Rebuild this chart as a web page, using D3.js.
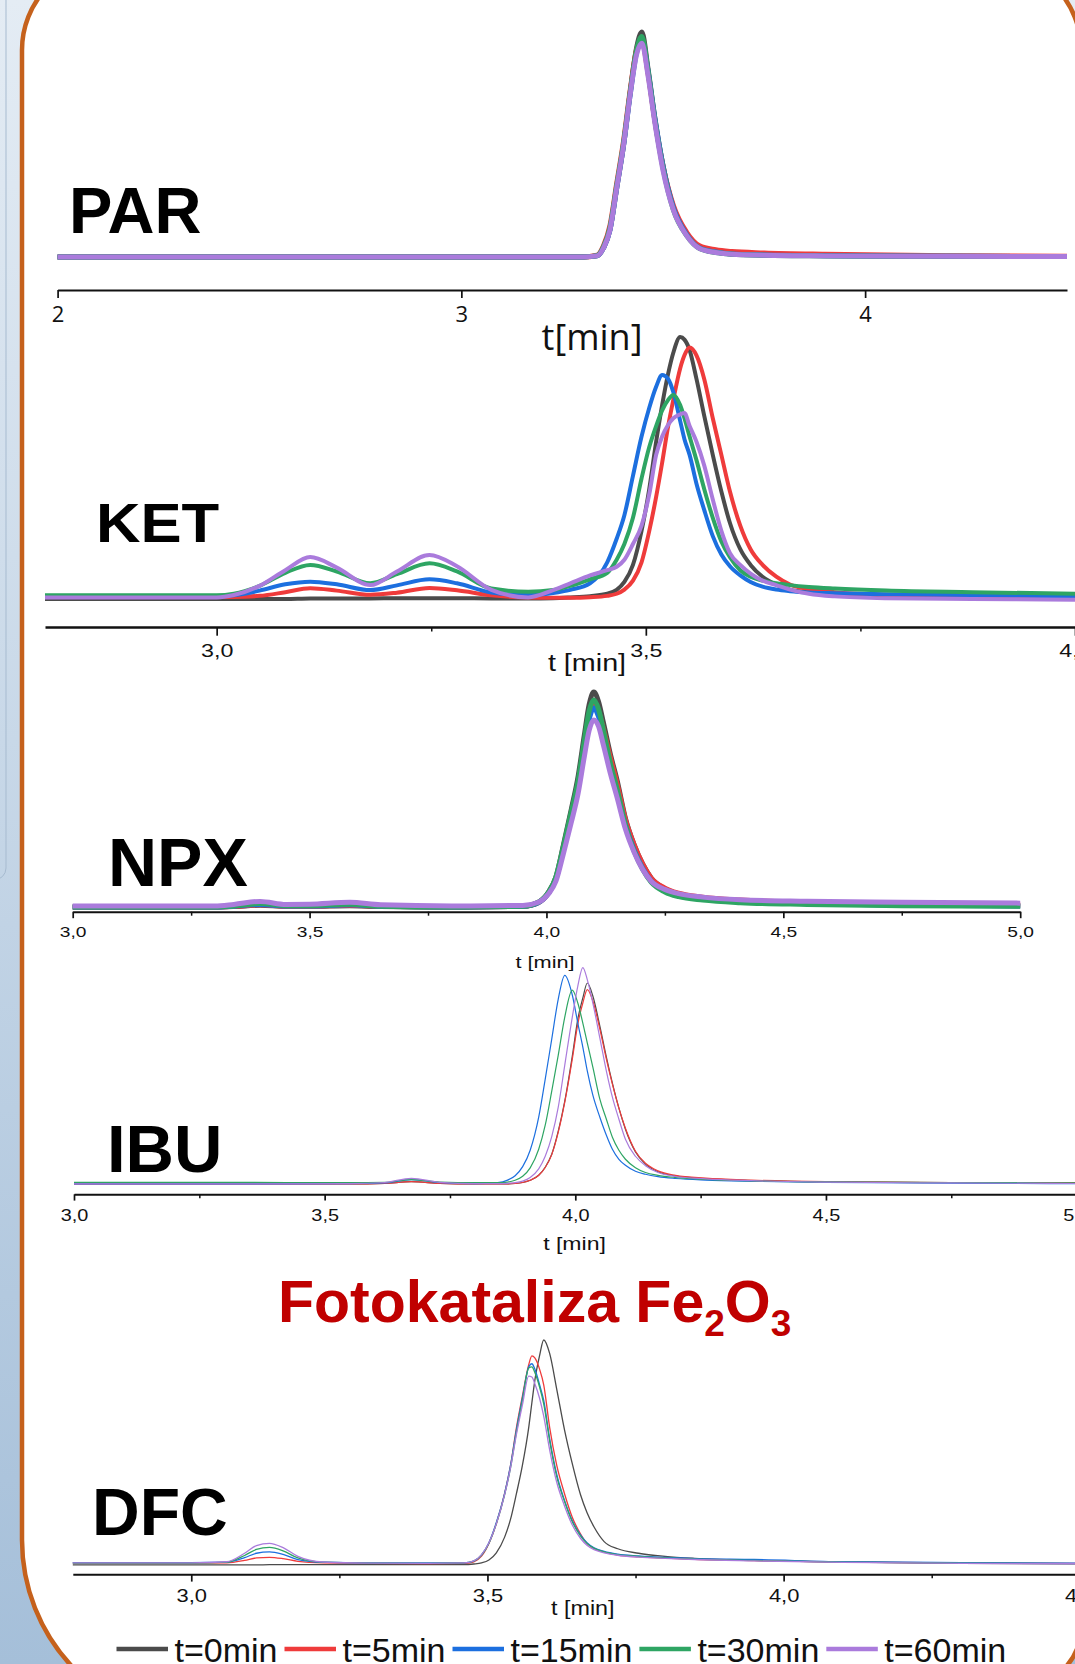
<!DOCTYPE html>
<html>
<head>
<meta charset="utf-8">
<script src="https://cdn.jsdelivr.net/npm/d3@7"></script>
<style>
	html, body { margin: 0; padding: 0; background: #fff; }
	svg { display: block; }
</style>
</head>
<body>
<svg id="chart" width="1075" height="1664"></svg>
<script>
var seriesNames = ["t=0min", "t=5min", "t=15min", "t=30min", "t=60min"];
var seriesColors = ["#4b4b4b", "#ef3b3b", "#1c6fdf", "#2ea563", "#aa7bdc"];

// PAR
var parTime = [2.0, 3.0, 3.30, 3.336, 3.352, 3.368, 3.385, 3.402, 3.418, 3.434, 3.447, 3.462, 3.479, 3.50, 3.525, 3.558, 3.59, 3.63, 3.67, 3.75, 3.9, 4.2, 4.5];
var parT0  = [0, 0, 0, 0.5, 4, 12, 31, 50, 73, 93, 100, 84, 62, 40, 22, 10, 4, 2.2, 1.3, 0.9, 0.6, 0.3, 0.2];
var parT5  = [0, 0, 0, 0.8, 5, 14, 33, 52, 74, 92, 96, 82, 61, 40, 23, 11, 5, 3.2, 2.4, 1.8, 1.2, 0.6, 0.3];
var parT15 = [0, 0, 0, 0.5, 4, 12, 31, 50, 72, 91, 97, 83, 62, 40, 22, 10, 4, 2.2, 1.3, 0.9, 0.6, 0.3, 0.2];
var parT30 = [0, 0, 0, 0.6, 4.5, 13, 32, 51, 73, 92, 98, 83, 61, 39, 21, 9.5, 3.8, 2.0, 1.2, 0.8, 0.5, 0.3, 0.2];
var parT60 = [0, 0, 0, 0.5, 4, 12, 31, 50, 72, 90, 95, 81, 60, 38, 21, 9.5, 3.8, 2.0, 1.2, 0.8, 0.5, 0.3, 0.2];

// KET
var ketTime = [2.80, 3.00, 3.02, 3.05, 3.08, 3.109, 3.14, 3.179, 3.21, 3.248, 3.28, 3.32, 3.363, 3.392, 3.412, 3.435, 3.455, 3.466, 3.475, 3.485, 3.495, 3.504, 3.512, 3.519, 3.526, 3.532, 3.540, 3.545, 3.551, 3.559, 3.568, 3.578, 3.588, 3.598, 3.61, 3.622, 3.636, 3.652, 3.668, 3.69, 3.72, 3.78, 3.88, 4.00];
var ketT0  = [0, 0, 0, 0, 0, 0.2, 0.2, 0.2, 0.3, 0.3, 0.3, 0.2, 0.2, 0.3, 0.6, 1.1, 2.0, 3.5, 6.5, 13, 26, 42, 60, 74, 86, 94, 100, 99, 95, 84, 70, 55, 41, 29, 19, 13, 8.5, 5.5, 3.6, 2.5, 1.8, 1.2, 0.8, 0.5];
var ketT5  = [0.8, 0.8, 0.8, 1.2, 2.6, 4.1, 3.2, 1.6, 2.4, 4.2, 3.3, 1.4, 0.6, 0.5, 0.5, 0.7, 1.2, 2.0, 3.6, 7, 14, 26, 39, 52, 66, 76, 88, 93, 96, 93, 84, 69, 55, 41, 28, 19, 13, 8.5, 5.5, 3.8, 2.6, 1.6, 1.0, 0.6];
var ketT15 = [1.0, 1.0, 1.4, 3.2, 5.6, 6.6, 5.6, 3.4, 5.2, 7.5, 6.0, 2.5, 1.5, 2.3, 3.5, 6, 14, 23, 32, 47, 62, 73, 81, 85.5, 84, 79, 68, 61, 55, 44, 34, 24, 17, 12.5, 9, 6.5, 4.7, 3.6, 3.0, 2.5, 2.2, 1.8, 1.5, 1.0];
var ketT30 = [1.4, 1.4, 2.0, 5.0, 10, 13, 10.5, 6, 9.5, 13.6, 10.5, 4, 2.8, 3.4, 5, 7.5, 10, 15, 21, 31, 46, 58, 66, 72, 76, 77.9, 74, 69, 62, 53, 42, 31, 22, 16, 11, 8.5, 7, 6, 5.3, 4.6, 4.0, 3.2, 2.6, 2.0];
var ketT60 = [0.6, 0.6, 1.5, 5, 11, 16, 12, 5.3, 10.5, 16.8, 12.5, 3.5, 0.6, 3.4, 6, 9, 11, 12.3, 15, 21, 28, 40, 55, 62, 66.5, 69, 70.5, 71, 66, 60, 51, 38, 26, 17.5, 13, 9.7, 7, 5.3, 3.6, 2.0, 1.0, 0.3, 0, -0.3];

// NPX
var npxTime = [3.0, 3.30, 3.34, 3.396, 3.45, 3.50, 3.585, 3.65, 3.80, 3.95, 3.983, 4.004, 4.02, 4.036, 4.052, 4.067, 4.08, 4.09, 4.10, 4.11, 4.12, 4.135, 4.149, 4.167, 4.185, 4.203, 4.221, 4.25, 4.279, 4.33, 4.409, 4.55, 4.75, 5.0];
var npxT0  = [0, 0, 0.2, 0.8, 0.3, 0.3, 0.6, 0.2, 0, 0.3, 2.2, 6.8, 14, 29, 45, 61, 80, 94, 100, 95.5, 86, 71, 59, 41, 29, 20, 13.5, 8.5, 6, 4.2, 2.8, 1.8, 1.0, 0.6];
var npxT5  = [0, 0, 0.3, 1.0, 0.4, 0.4, 0.8, 0.3, 0, 0.3, 2.0, 6.3, 13, 27, 42, 57, 75, 88, 94, 91, 83, 69.5, 57.5, 40.5, 29, 20, 13.5, 8.8, 6.4, 4.6, 3.2, 2.2, 1.4, 0.9];
var npxT15 = [0, 0, 0.4, 1.2, 0.5, 0.5, 1.0, 0.3, 0, 0.3, 2.0, 6.3, 13, 27, 41.5, 56.5, 74, 87, 92.6, 88.5, 80, 65.5, 54, 38, 26.5, 18, 12, 7.6, 5.4, 3.8, 2.5, 1.6, 0.9, 0.5];
var npxT30 = [0, 0, 0.5, 1.6, 0.6, 0.6, 1.3, 0.4, 0, 0.3, 2.2, 6.8, 14, 28.5, 44, 59, 77.5, 91, 96.3, 92, 82.5, 67, 55, 38, 26, 17.5, 11.5, 7, 4.8, 3.2, 2.0, 1.2, 0.6, 0.3];
var npxT60 = [0.5, 0.5, 1.2, 2.6, 1.2, 1.3, 2.2, 1.0, 0.5, 0.7, 2.2, 6, 12, 25, 39, 53, 70, 82, 87, 84, 75.5, 62, 51, 36, 25.5, 17.5, 12, 8.2, 6.2, 4.6, 3.4, 2.7, 2.2, 1.8];

// IBU
var ibuTime = [3.0, 3.30, 3.55, 3.62, 3.673, 3.73, 3.80, 3.845, 3.865, 3.88, 3.895, 3.91, 3.927, 3.94, 3.953, 3.966, 3.979, 3.994, 4.005, 4.015, 4.024, 4.035, 4.049, 4.062, 4.074, 4.087, 4.10, 4.12, 4.14, 4.165, 4.20, 4.26, 4.35, 4.50, 4.75, 5.0];
var ibuT0  = [-0.3, -0.3, -0.3, 0, 0.8, 0, -0.3, -0.3, -0.3, -0.1, 0.4, 1.5, 4.0, 8.0, 14.5, 26, 41, 63.5, 82, 92.5, 100, 93.5, 78.5, 63, 50, 37.5, 27, 15.7, 9.6, 5.8, 3.7, 2.3, 1.4, 0.7, 0.3, 0.1];
var ibuT5  = [-0.3, -0.3, -0.3, 0, 0.8, 0, -0.3, -0.3, -0.3, -0.1, 0.4, 1.5, 4.0, 7.9, 14.3, 25.5, 40.5, 62, 79.5, 90, 96.7, 91, 77, 62, 49.5, 37.5, 27.5, 16, 10, 6.2, 4.0, 2.6, 1.6, 0.8, 0.4, 0.3];
var ibuT15 = [-0.3, -0.3, -0.2, 0.2, 1.8, 0.3, -0.2, 0.3, 1.6, 3.8, 8.3, 16.5, 33, 52, 72, 92, 103.8, 94, 80, 68, 56, 44, 33, 24, 17, 12, 9, 6, 4.5, 3.3, 2.4, 1.6, 1.0, 0.5, 0.1, -0.2];
var ibuT30 = [0.5, 0.5, 0.3, 0.5, 1.8, 0.6, 0.3, 0.3, 0.6, 1.5, 3.5, 7.7, 17, 29, 46, 64, 83, 96.4, 90, 80, 70, 58, 42, 32, 23, 16.5, 12, 7.8, 5.4, 4.0, 2.9, 1.9, 1.2, 0.7, 0.4, 0.2];
var ibuT60 = [-0.3, -0.3, -0.2, 0.4, 2.5, 0.5, -0.2, -0.2, 0, 0.3, 1.1, 2.9, 7.2, 13.5, 23.3, 38, 59, 83, 98.5, 107.7, 101.6, 90, 72.5, 56, 43, 32, 22, 13.5, 8.8, 5.4, 3.4, 2.2, 1.3, 0.6, 0.2, -0.1];

// DFC
var dfcTime = [2.8, 3.0, 3.06, 3.09, 3.11, 3.132, 3.155, 3.18, 3.222, 3.30, 3.40, 3.46, 3.477, 3.49, 3.5025, 3.515, 3.529, 3.539, 3.549, 3.559, 3.5697, 3.575, 3.58, 3.588, 3.595, 3.605, 3.617, 3.63, 3.643, 3.657, 3.668, 3.68, 3.697, 3.72, 3.755, 3.80, 3.85, 3.95, 4.1, 4.3, 4.5];
var dfcT0  = [-0.4, -0.4, -0.4, -0.4, -0.4, -0.3, -0.3, -0.3, -0.3, -0.3, -0.3, -0.3, 0, 0.5, 1.8, 5, 12, 20, 31.5, 44, 61, 72, 82, 93, 100, 94, 78, 60, 45, 31, 23, 16.5, 10, 6.8, 4.8, 3.4, 2.5, 1.6, 0.8, 0.3, 0];
var dfcT5  = [0.4, 0.4, 0.5, 1.6, 2.7, 3.0, 2.4, 1.2, 0.5, 0.3, 0.2, 0.3, 1, 3.5, 9.2, 18, 31.5, 44, 61, 75, 89, 92.9, 92, 87, 80, 61, 44, 31.5, 21, 13.5, 9.2, 6.8, 5.3, 4.0, 3.2, 2.6, 2.1, 1.5, 0.9, 0.5, 0.3];
var dfcT15 = [0.6, 0.6, 0.8, 2.8, 4.8, 5.4, 4.3, 2.0, 0.8, 0.5, 0.5, 0.5, 1.3, 4, 9.5, 18.5, 31.5, 44, 60, 74, 88, 89.4, 87, 80, 73, 56, 40, 28.5, 19.5, 13, 9.5, 7.2, 5.6, 4.4, 3.6, 2.9, 2.4, 2.0, 1.0, 0.6, 0.4];
var dfcT30 = [0.4, 0.4, 0.8, 3.8, 6.5, 7.4, 5.9, 2.7, 0.8, 0.4, 0.3, 0.5, 1.3, 4, 9.3, 18, 31, 43, 59, 73, 87.5, 88, 85.5, 79, 71.5, 55, 39, 28, 19, 12.6, 9.2, 7, 5.4, 4.2, 3.4, 2.7, 2.2, 1.6, 0.8, 0.4, 0.2];
var dfcT60 = [0.5, 0.5, 1.0, 4.8, 8.2, 9.2, 7.3, 3.4, 0.9, 0.4, 0.3, 0.5, 1.4, 4.2, 9.5, 18, 31, 43, 58, 71, 83.9, 83.5, 80.5, 74, 66, 51, 36.5, 26, 17.5, 11.5, 8.4, 6.4, 5.0, 3.9, 3.1, 2.5, 2.0, 1.4, 0.7, 0.3, 0.1];

var sans = "'Liberation Sans', Arial, sans-serif";
var comma = function(d) { return d.toFixed(1).replace(".", ","); };

var panels = [
	{ label: "PAR", time: parTime, values: [parT0, parT5, parT15, parT30, parT60],
		domain: [2, 4.5], range: [57.6, 1067], base: 257, top: 32, axisY: 290, axisW: 2,
		lineW: 5, ticks: [2, 3, 4], minor: [], tickLen: 8, minorLen: 0, pad: 8.7,
		tickFont: "'Open Sans', sans-serif", tickSize: 22, stretch: 1, format: function(d) { return d; },
		unit: { text: "t[min]", x: 592, y: 350, size: 36, font: "'Open Sans', sans-serif", stretch: 1 },
		name: { x: 69, y: 233, size: 65, stretch: 1 } },
	{ label: "KET", time: ketTime, values: [ketT0, ketT5, ketT15, ketT30, ketT60],
		domain: [2.8, 4.0], range: [45, 1075], base: 599, top: 337, axisY: 627, axisW: 2.5,
		lineW: 4, ticks: [3.0, 3.5, 4.0], minor: [3.25, 3.75], tickLen: 8.7, minorLen: 4.5, pad: 9.3,
		tickFont: sans, tickSize: 17.5, stretch: 1.33, format: comma,
		unit: { text: "t [min]", x: 587, y: 671, size: 23, font: sans, stretch: 1.25 },
		name: { x: 96, y: 542, size: 56, stretch: 1.1 } },
	{ label: "NPX", time: npxTime, values: [npxT0, npxT5, npxT15, npxT30, npxT60],
		domain: [3.0, 5.0], range: [72.7, 1020.2], base: 907, top: 692, axisY: 911.7, axisW: 2,
		lineW: 5, ticks: [3.0, 3.5, 4.0, 4.5, 5.0], minor: [3.25, 3.75, 4.25, 4.75], tickLen: 6.5, minorLen: 4, pad: 7.8,
		tickFont: sans, tickSize: 15, stretch: 1.28, format: comma,
		unit: { text: "t [min]", x: 545, y: 968, size: 17, font: sans, stretch: 1.28 },
		name: { x: 108, y: 886, size: 68, stretch: 1 } },
	{ label: "IBU", time: ibuTime, values: [ibuT0, ibuT5, ibuT15, ibuT30, ibuT60],
		domain: [3.0, 5.0], range: [74, 1076.6], base: 1183.3, top: 983, axisY: 1194.3, axisW: 2,
		lineW: 1.2, ticks: [3.0, 3.5, 4.0, 4.5, 5.0], minor: [3.25, 3.75, 4.25, 4.75], tickLen: 6.3, minorLen: 4, pad: 8.7,
		tickFont: sans, tickSize: 15.8, stretch: 1.26, format: comma,
		unit: { text: "t [min]", x: 574.5, y: 1250, size: 18, font: sans, stretch: 1.28 },
		name: { x: 107, y: 1172, size: 67, stretch: 1 } },
	{ label: "DFC", time: dfcTime, values: [dfcT0, dfcT5, dfcT15, dfcT30, dfcT60],
		domain: [2.8, 4.5], range: [72.8, 1079.8], base: 1564, top: 1340, axisY: 1574.3, axisW: 2,
		lineW: 1.3, ticks: [3.0, 3.5, 4.0, 4.5], minor: [3.25, 3.75, 4.25], tickLen: 7.3, minorLen: 4, pad: 6.7,
		tickFont: sans, tickSize: 18.6, stretch: 1.18, format: comma,
		unit: { text: "t [min]", x: 582.8, y: 1615, size: 20.5, font: sans, stretch: 1.14 },
		name: { x: 92, y: 1535, size: 66, stretch: 1 } }
];

var svg = d3.select("#chart");

// slide background
var defs = svg.append("defs");
var grad = defs.append("linearGradient").attr("id", "bg")
	.attr("x1", 0).attr("y1", 0).attr("x2", 0).attr("y2", 1);
grad.append("stop").attr("offset", "0%").attr("stop-color", "#e4ecf4");
grad.append("stop").attr("offset", "100%").attr("stop-color", "#a5bfd9");
svg.append("rect").attr("width", 1075).attr("height", 1664).attr("fill", "url(#bg)");
svg.append("path")
	.attr("d", "M6,0 V868 A12,12 0 0 1 -6,880")
	.attr("fill", "none").attr("stroke", "#a7bbd0").attr("stroke-width", 1);
svg.append("path")
	.attr("d", "M22,1540 V50 A90,90 0 0 1 112,-40 H991 A90,90 0 0 1 1081,50 V1627 A60,60 0 0 1 1021,1687 L207,1725 A185,185 0 0 1 22,1540 Z")
	.attr("fill", "#fff")
	.attr("stroke", "#c5611c")
	.attr("stroke-width", 4.5);

panels.forEach(function(p) {
	var x = d3.scaleLinear().domain(p.domain).range(p.range);
	var y = d3.scaleLinear().domain([0, 100]).range([p.base, p.top]);
	var g = svg.append("g").attr("class", "panel " + p.label);

	var line = d3.line()
		.x(function(d, i) { return x(p.time[i]); })
		.y(function(d) { return y(d); })
		.curve(d3.curveMonotoneX);

	g.selectAll("path.trace")
		.data(p.values)
		.enter()
		.append("path")
		.attr("class", "trace")
		.attr("d", line)
		.attr("fill", "none")
		.attr("stroke", function(d, i) { return seriesColors[i]; })
		.attr("stroke-width", p.lineW)
		.attr("stroke-linejoin", "round");

	var ax = g.append("g")
		.attr("transform", "translate(0," + p.axisY + ")")
		.call(d3.axisBottom(x)
			.tickValues(p.ticks)
			.tickSize(p.tickLen)
			.tickSizeOuter(0)
			.tickPadding(p.pad)
			.tickFormat(p.format));
	ax.select(".domain").attr("stroke", "#111").attr("stroke-width", p.axisW);
	ax.selectAll(".tick line").attr("stroke", "#111").attr("stroke-width", 1.7);
	ax.selectAll(".tick text")
		.attr("fill", "#111")
		.attr("font-family", p.tickFont)
		.attr("font-size", p.tickSize)
		.attr("transform", "scale(" + p.stretch + ",1)");

	if (p.minor.length) {
		var mx = g.append("g")
			.attr("transform", "translate(0," + p.axisY + ")")
			.call(d3.axisBottom(x).tickValues(p.minor).tickSize(p.minorLen).tickSizeOuter(0).tickFormat(""));
		mx.select(".domain").remove();
		mx.selectAll(".tick line").attr("stroke", "#111").attr("stroke-width", 1.5);
	}

	g.append("text")
		.attr("transform", "translate(" + p.unit.x + "," + p.unit.y + ") scale(" + p.unit.stretch + ",1)")
		.attr("text-anchor", "middle")
		.attr("font-family", p.unit.font)
		.attr("font-size", p.unit.size)
		.attr("fill", "#111")
		.text(p.unit.text);

	g.append("text")
		.attr("transform", "translate(" + p.name.x + "," + p.name.y + ") scale(" + p.name.stretch + ",1)")
		.attr("font-family", sans)
		.attr("font-weight", "bold")
		.attr("font-size", p.name.size)
		.attr("fill", "#000")
		.text(p.label);
});

// title
var title = svg.append("text")
	.attr("x", 278).attr("y", 1322)
	.attr("font-family", sans)
	.attr("font-weight", "bold")
	.attr("font-size", 59)
	.attr("fill", "#c00000");
title.append("tspan").text("Fotokataliza Fe");
title.append("tspan").attr("font-size", 37).attr("dy", 14).text("2");
title.append("tspan").attr("dy", -14).text("O");
title.append("tspan").attr("font-size", 37).attr("dy", 14).text("3");

// legend
var legend = svg.append("g").attr("font-family", sans).attr("font-size", 34).attr("fill", "#111");
var lx = 116.5;
seriesNames.forEach(function(name, i) {
	legend.append("line")
		.attr("x1", lx).attr("x2", lx + 51.5)
		.attr("y1", 1649).attr("y2", 1649)
		.attr("stroke", seriesColors[i])
		.attr("stroke-width", 4.5);
	var t = legend.append("text").attr("x", lx + 58).attr("y", 1662).text(name);
	lx += 58 + t.node().getComputedTextLength() + 7;
});
</script>
</body>
</html>
